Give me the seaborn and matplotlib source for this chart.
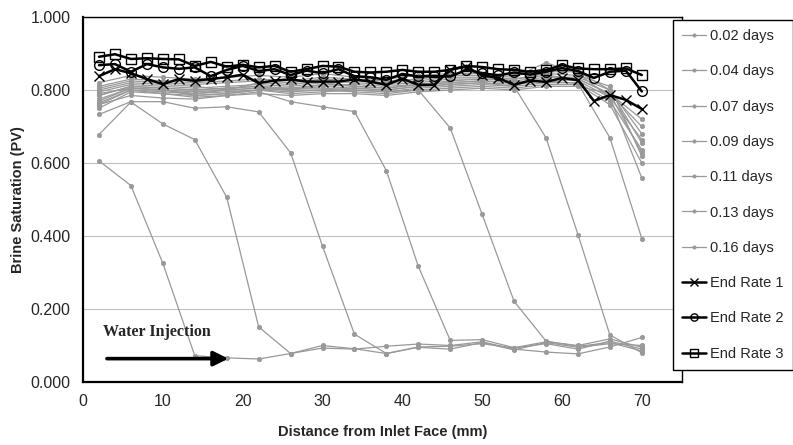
import matplotlib
matplotlib.use("Agg")
import pandas as pd
import matplotlib.pyplot as plt
import seaborn as sns

# positions along the core (mm)
pos_days = [2, 6, 10, 14, 18, 22, 26, 30, 34, 38, 42, 46, 50, 54, 58, 62, 66, 70]
pos_end = [2, 4, 6, 8, 10, 12, 14, 16, 18, 20, 22, 24, 26, 28, 30, 32, 34, 36,
           38, 40, 42, 44, 46, 48, 50, 52, 54, 56, 58, 60, 62, 64, 66, 68, 70]

day_labels = ["0.02 days", "0.04 days", "0.07 days", "0.09 days",
              "0.11 days", "0.13 days", "0.16 days"]

sat_002 = [0.606, 0.538, 0.325, 0.072, 0.066, 0.063, 0.078, 0.093, 0.090,
           0.098, 0.104, 0.100, 0.110, 0.090, 0.082, 0.077, 0.096, 0.122]
sat_004 = [0.678, 0.767, 0.707, 0.664, 0.506, 0.151, 0.078, 0.100, 0.091,
           0.078, 0.095, 0.090, 0.108, 0.088, 0.108, 0.095, 0.105, 0.100]
sat_007 = [0.733, 0.768, 0.768, 0.750, 0.754, 0.740, 0.628, 0.372, 0.131,
           0.078, 0.096, 0.098, 0.105, 0.093, 0.105, 0.090, 0.112, 0.090]
sat_009 = [0.760, 0.785, 0.778, 0.775, 0.785, 0.795, 0.768, 0.754, 0.741,
           0.579, 0.317, 0.114, 0.116, 0.094, 0.110, 0.100, 0.118, 0.095]
sat_011 = [0.765, 0.800, 0.790, 0.785, 0.790, 0.800, 0.790, 0.795, 0.800,
           0.795, 0.800, 0.696, 0.459, 0.221, 0.112, 0.098, 0.108, 0.085]
sat_013 = [0.775, 0.805, 0.800, 0.790, 0.800, 0.805, 0.800, 0.800, 0.805,
           0.800, 0.810, 0.815, 0.820, 0.810, 0.669, 0.404, 0.129, 0.080]
sat_016 = [0.785, 0.810, 0.805, 0.800, 0.805, 0.810, 0.805, 0.815, 0.810,
           0.805, 0.815, 0.820, 0.825, 0.820, 0.825, 0.818, 0.669, 0.393]

# later profiles, not listed in the legend
later_profiles = [
    [0.790, 0.805, 0.800, 0.795, 0.800, 0.805, 0.800, 0.810, 0.805, 0.800, 0.810, 0.815, 0.820, 0.815, 0.825, 0.830, 0.790, 0.700],
    [0.795, 0.815, 0.810, 0.805, 0.810, 0.815, 0.810, 0.820, 0.810, 0.805, 0.815, 0.820, 0.825, 0.820, 0.830, 0.825, 0.780, 0.664],
    [0.800, 0.820, 0.815, 0.810, 0.800, 0.820, 0.815, 0.825, 0.820, 0.815, 0.820, 0.830, 0.830, 0.825, 0.835, 0.835, 0.800, 0.655],
    [0.760, 0.800, 0.795, 0.790, 0.795, 0.800, 0.805, 0.805, 0.800, 0.795, 0.805, 0.810, 0.815, 0.810, 0.820, 0.820, 0.770, 0.636],
    [0.785, 0.810, 0.805, 0.800, 0.805, 0.810, 0.800, 0.815, 0.815, 0.810, 0.815, 0.825, 0.830, 0.830, 0.840, 0.830, 0.790, 0.627],
    [0.805, 0.825, 0.820, 0.815, 0.820, 0.825, 0.820, 0.830, 0.825, 0.820, 0.825, 0.835, 0.835, 0.830, 0.845, 0.840, 0.810, 0.618],
    [0.770, 0.805, 0.800, 0.785, 0.790, 0.800, 0.795, 0.800, 0.795, 0.790, 0.800, 0.805, 0.810, 0.805, 0.815, 0.815, 0.760, 0.600],
    [0.810, 0.830, 0.825, 0.820, 0.825, 0.830, 0.825, 0.835, 0.830, 0.825, 0.830, 0.840, 0.840, 0.835, 0.875, 0.845, 0.780, 0.559],
    [0.750, 0.795, 0.790, 0.780, 0.785, 0.790, 0.785, 0.790, 0.790, 0.785, 0.795, 0.800, 0.805, 0.800, 0.810, 0.810, 0.790, 0.720],
    [0.820, 0.840, 0.835, 0.830, 0.835, 0.840, 0.835, 0.845, 0.835, 0.830, 0.840, 0.845, 0.845, 0.840, 0.850, 0.850, 0.800, 0.680],
]

end_rate_1 = [0.838, 0.857, 0.846, 0.830, 0.816, 0.830, 0.825, 0.830, 0.835, 0.842,
              0.819, 0.826, 0.829, 0.823, 0.823, 0.823, 0.829, 0.823, 0.814, 0.831,
              0.814, 0.814, 0.856, 0.864, 0.840, 0.833, 0.814, 0.826, 0.822, 0.833,
              0.827, 0.770, 0.786, 0.773, 0.748]
end_rate_2 = [0.868, 0.871, 0.850, 0.871, 0.862, 0.858, 0.862, 0.838, 0.855, 0.866,
              0.852, 0.857, 0.841, 0.853, 0.846, 0.857, 0.838, 0.835, 0.828, 0.844,
              0.837, 0.838, 0.837, 0.855, 0.846, 0.840, 0.848, 0.842, 0.850, 0.860,
              0.852, 0.833, 0.850, 0.853, 0.796]
end_rate_3 = [0.891, 0.898, 0.885, 0.887, 0.885, 0.884, 0.866, 0.877, 0.864, 0.869,
              0.862, 0.866, 0.850, 0.857, 0.866, 0.864, 0.850, 0.848, 0.850, 0.855,
              0.850, 0.850, 0.855, 0.866, 0.863, 0.857, 0.855, 0.850, 0.855, 0.868,
              0.859, 0.857, 0.857, 0.859, 0.841]

sns.set_style("white")
plt.rcParams["font.family"] = ["Liberation Sans", "DejaVu Sans"]

fig = plt.figure(figsize=(7.93, 4.45), dpi=100)
ax = fig.add_axes([0.1047, 0.1416, 0.755, 0.8202])

gray = "#999999"
day_series = [sat_002, sat_004, sat_007, sat_009, sat_011, sat_013, sat_016]

for prof in later_profiles:
    sns.lineplot(x=pos_days, y=prof, ax=ax, color=gray, lw=0.9,
                 marker="o", markersize=3.2, markeredgecolor=gray,
                 markeredgewidth=0.5, label="_nolegend_")

for lab, vals in zip(day_labels, day_series):
    sns.lineplot(x=pos_days, y=vals, ax=ax, color=gray, lw=0.9,
                 marker="o", markersize=3.2, markeredgecolor=gray,
                 markeredgewidth=0.5, label=lab)

sns.lineplot(x=pos_end, y=end_rate_1, ax=ax, color="black", lw=1.8,
             marker="x", markersize=7.5, markeredgecolor="black",
             markeredgewidth=1.0, label="End Rate 1")
sns.lineplot(x=pos_end, y=end_rate_2, ax=ax, color="black", lw=1.8,
             marker="o", markersize=7, markerfacecolor="none",
             markeredgecolor="black", markeredgewidth=1.0, label="End Rate 2")
sns.lineplot(x=pos_end, y=end_rate_3, ax=ax, color="black", lw=1.8,
             marker="s", markersize=7, markerfacecolor="none",
             markeredgecolor="black", markeredgewidth=1.0, label="End Rate 3")

ax.set_xlim(0, 75)
ax.set_ylim(0, 1.0)
ax.set_xticks([0, 10, 20, 30, 40, 50, 60, 70])
ax.set_yticks([0, 0.2, 0.4, 0.6, 0.8, 1.0])
ax.set_yticklabels([f"{v:.3f}" for v in [0, 0.2, 0.4, 0.6, 0.8, 1.0]])
ax.yaxis.grid(True, color="#c0c0c0", lw=0.8)
ax.set_axisbelow(True)
ax.tick_params(axis="both", direction="out", length=5, width=1.2,
               labelsize=11.5, color="black", pad=4)
for side in ["left", "bottom"]:
    ax.spines[side].set_linewidth(1.6)
    ax.spines[side].set_color("black")
for side in ["top", "right"]:
    ax.spines[side].set_linewidth(1.0)
    ax.spines[side].set_color("black")

ax.set_xlabel("Distance from Inlet Face (mm)", fontsize=10.5, fontweight="bold", labelpad=11)
ax.set_ylabel("Brine Saturation (PV)", fontsize=10.5, fontweight="bold", labelpad=4)

ax.text(2.5, 0.137, "Water Injection", fontsize=11.5, fontweight="bold",
        family=["Liberation Serif", "DejaVu Serif"], va="center", ha="left")
ax.annotate("", xy=(18.2, 0.064), xytext=(3.0, 0.064),
            arrowprops=dict(arrowstyle="-|>", lw=2.6, color="black",
                            mutation_scale=22, shrinkA=0, shrinkB=0))

leg = ax.legend(loc="upper left", bbox_to_anchor=(0.849, 0.955),
                bbox_transform=fig.transFigure, frameon=True, fancybox=False,
                edgecolor="black", fontsize=10.5, labelspacing=1.46,
                handlelength=1.6, handletextpad=0.3, borderpad=0.62,
                borderaxespad=0, markerscale=0.75)
leg.get_frame().set_linewidth(1.0)
leg.get_frame().set_facecolor("white")
leg.get_frame().set_alpha(1)

fig.savefig("out.png", dpi=100)
